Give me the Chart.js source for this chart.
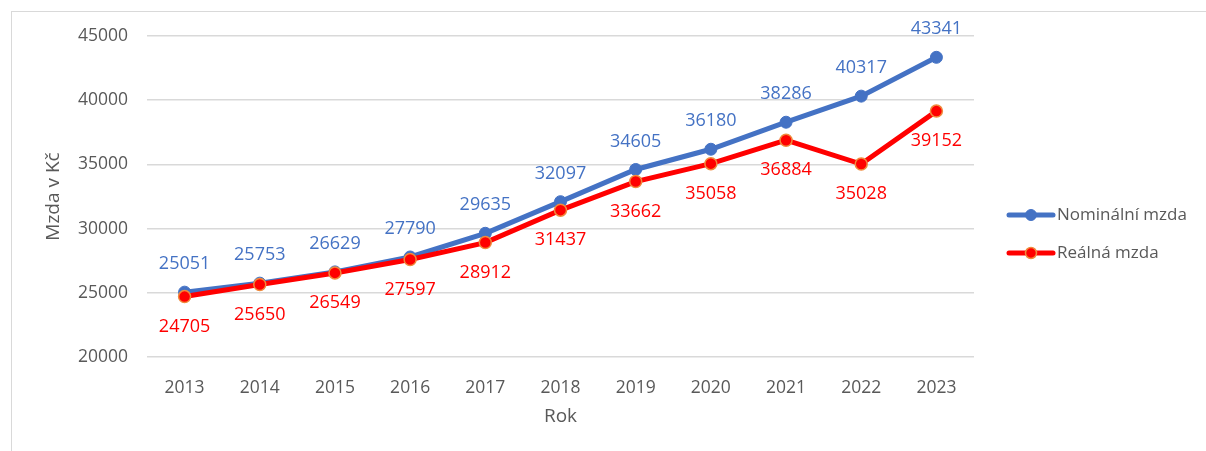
<!DOCTYPE html>
<html>
<head>
<meta charset="utf-8">
<script src="https://cdn.jsdelivr.net/npm/chart.js@4.4.1/dist/chart.umd.min.js"></script>
<style>
  html, body { margin: 0; padding: 0; background: #fff; overflow: hidden; }
  #wrap { position: relative; width: 1206px; height: 451px; overflow: hidden; }
  #frame { position: absolute; left: 11px; top: 11px; right: 0; bottom: 0;
           border-top: 1.5px solid #d9d9d9; border-left: 1.5px solid #d9d9d9; }
  canvas { position: absolute; left: 0; top: 0; }
</style>
</head>
<body>
<div id="wrap">
  <div id="frame"></div>
  <canvas id="myChart" width="1206" height="451"></canvas>
</div>
<script>
// hodnoty
const years = ['2013','2014','2015','2016','2017','2018','2019','2020','2021','2022','2023'];
const nominal = [25051, 25753, 26629, 27790, 29635, 32097, 34605, 36180, 38286, 40317, 43341];
const real = [24705, 25650, 26549, 27597, 28912, 31437, 33662, 35058, 36884, 35028, 39152];
const yTicks = [20000, 25000, 30000, 35000, 40000, 45000];

const FONT = '"Open Sans", "Noto Sans", sans-serif';
const BLUE = '#4472C4';
const RED = '#FF0000';
const GREY = '#595959';

// popisky hodnot nad / pod body
const valueLabels = {
  id: 'valueLabels',
  afterDatasetsDraw: function (chart) {
    const ctx = chart.ctx;
    ctx.save();
    ctx.font = '18px ' + FONT;
    ctx.textAlign = 'center';
    ctx.textBaseline = 'middle';
    chart.data.datasets.forEach(function (ds, di) {
      const meta = chart.getDatasetMeta(di);
      ctx.fillStyle = ds.labelColor;
      meta.data.forEach(function (pt, i) {
        ctx.fillText(String(ds.data[i]), pt.x, pt.y + ds.labelShift);
      });
    });
    ctx.restore();
  }
};

// legenda vpravo: čára s bodem + text
const sideLegend = {
  id: 'sideLegend',
  afterDraw: function (chart) {
    const ctx = chart.ctx;
    const items = [chart.data.datasets[1], chart.data.datasets[0]];
    ctx.save();
    items.forEach(function (ds, k) {
      const y = 215 + k * 38;
      ctx.strokeStyle = ds.borderColor;
      ctx.lineWidth = ds.borderWidth;
      ctx.lineCap = 'round';
      ctx.beginPath();
      ctx.moveTo(1009, y);
      ctx.lineTo(1053, y);
      ctx.stroke();
      ctx.fillStyle = ds.pointBackgroundColor;
      ctx.strokeStyle = ds.pointBorderColor;
      ctx.lineWidth = ds.pointBorderWidth;
      ctx.beginPath();
      ctx.arc(1031, y, 5.5, 0, Math.PI * 2);
      ctx.fill();
      ctx.stroke();
      ctx.fillStyle = GREY;
      ctx.font = '17px ' + FONT;
      ctx.textAlign = 'left';
      ctx.textBaseline = 'middle';
      ctx.fillText(ds.label, 1057, y);
    });
    ctx.restore();
  }
};

const data = {
  labels: years,
  datasets: [
    {
      label: 'Reálná mzda',
      data: real,
      borderColor: RED,
      backgroundColor: RED,
      borderWidth: 5,
      pointRadius: 6,
      pointBackgroundColor: RED,
      pointBorderColor: '#F08A3C',
      pointBorderWidth: 1.5,
      labelColor: RED,
      labelShift: 30,
      order: 0
    },
    {
      label: 'Nominální mzda',
      data: nominal,
      borderColor: BLUE,
      backgroundColor: BLUE,
      borderWidth: 5,
      pointRadius: 6,
      pointBackgroundColor: BLUE,
      pointBorderColor: BLUE,
      pointBorderWidth: 1,
      labelColor: BLUE,
      labelShift: -28,
      order: 1
    }
  ]
};

const config = {
  type: 'line',
  data: data,
  plugins: [valueLabels, sideLegend],
  options: {
    responsive: false,
    animation: false,
    layout: { padding: { left: 0, top: 36, right: 232, bottom: 0 } },
    elements: { line: { tension: 0 } },
    plugins: {
      legend: { display: false },
      tooltip: { enabled: false }
    },
    scales: {
      x: {
        offset: true,
        grid: { display: false },
        border: { display: false },
        ticks: { color: GREY, font: { family: FONT, size: 17.5 }, padding: 13 },
        title: { display: true, text: 'Rok', color: GREY, font: { family: FONT, size: 19 }, padding: { bottom: 23 } },
        afterFit: function (s) { s.height = 94; }
      },
      y: {
        min: yTicks[0],
        max: yTicks[yTicks.length - 1],
        afterBuildTicks: function (s) { s.ticks = yTicks.map(function (v) { return { value: v }; }); },
        grid: { color: '#d9d9d9', lineWidth: 1.5, drawTicks: false },
        border: { display: false },
        ticks: {
          color: GREY, font: { family: FONT, size: 17.5 }, padding: 19,
          callback: function (v) { return String(v); }
        },
        title: { display: true, text: 'Mzda v Kč', color: GREY, font: { family: FONT, size: 19 }, padding: { top: 42 } },
        afterFit: function (s) { s.width = 147; }
      }
    }
  }
};

new Chart(document.getElementById('myChart'), config);
</script>
</body>
</html>
